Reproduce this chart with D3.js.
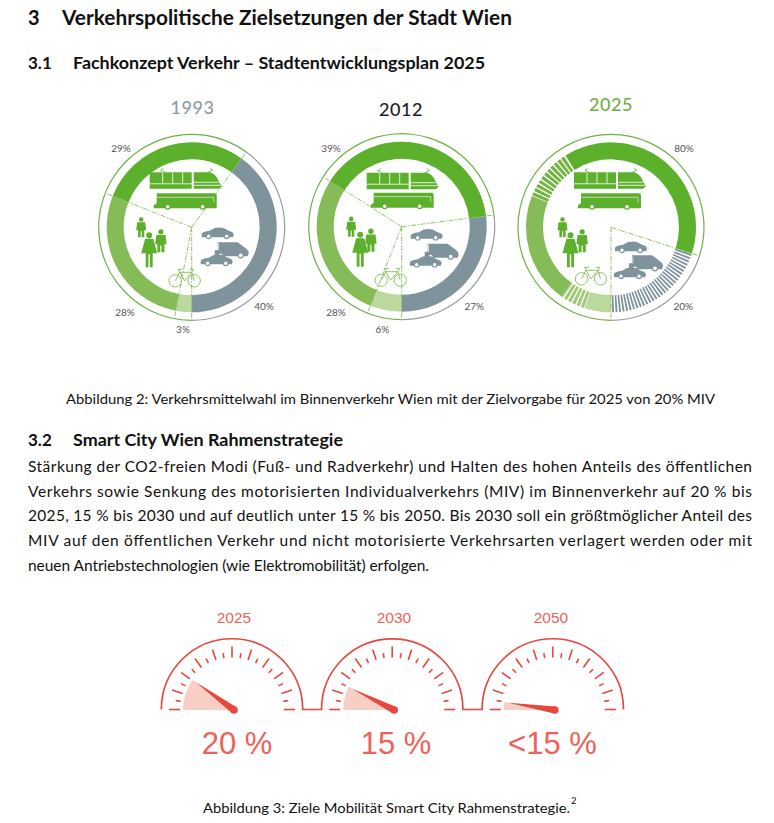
<!DOCTYPE html>
<html lang="de"><head><meta charset="utf-8">
<script src="https://cdn.jsdelivr.net/npm/d3@7"></script>
<style>html,body{margin:0;padding:0;background:#fff}svg{display:block}text{font-family:Lato,"Open Sans",sans-serif}</style>
</head><body><svg id="c" width="774" height="823" viewBox="0 0 774 823"></svg>
<script>
// ---------- data ----------
const years = ["1993","2012","2025"];
const modes = ["Rad","Fuß","ÖV","MIV"];
const share1993 = [3,28,29,40];
const share2012 = [6,28,39,27];
const modes2025 = ["Rad","Rad+","Fuß","Fuß+","ÖV","MIV"];
const share2025 = [5,5,21,10,39,20];
const gaugeYears = ["2025","2030","2050"];
const gaugeValues = [20,15,5];
const gaugeLabels = ["20 %","15 %","<15 %"];
const labels1993 = ["3%","28%","29%","40%"];
const labels2012 = ["6%","28%","39%","27%"];
const labels2025 = ["80%","20%"];

// ---------- styles ----------
const C = {dark:"#5cb02c",mid:"#86bc58",light:"#bbd89e",grey:"#7f939c",ring:"#6db043",ringGrey:"#9c9aa6",
  ink:"#111",red:"#e6473f",redText:"#ee625b",wedge:"#f9cfc5"};
const colorOf = {"Rad":C.light,"Rad+":"#9fca74","Fuß":C.mid,"Fuß+":"#6fb53e","ÖV":C.dark,"MIV":C.grey};
const svg = d3.select("#c");

// ---------- document text ----------
function txt(s,x,y,size,weight,w,fill){
  const t=svg.append("text").attr("x",x).attr("y",y).attr("font-size",size).attr("font-weight",weight||400).attr("fill",fill||C.ink).text(s);
  if(w) t.attr("textLength",w).attr("lengthAdjust","spacingAndGlyphs");
  return t;
}
txt("3",28,25,20,700);
txt("Verkehrspolitische Zielsetzungen der Stadt Wien",62,25,20,700,450);
txt("3.1",28,69,17,700);
txt("Fachkonzept Verkehr – Stadtentwicklungsplan 2025",73,69,17,700,412);
txt("Abbildung 2: Verkehrsmittelwahl im Binnenverkehr Wien mit der Zielvorgabe für 2025 von 20% MIV",66,404,14.3,400,649);
txt("3.2",28,446,17,700);
txt("Smart City Wien Rahmenstrategie",73,446,17,700,270);
const body=[
 ["Stärkung der CO2-freien Modi (Fuß- und Radverkehr) und Halten des hohen Anteils des öffentlichen",472,724],
 ["Verkehrs sowie Senkung des motorisierten Individualverkehrs (MIV) im Binnenverkehr auf 20 % bis",497,724],
 ["2025, 15 % bis 2030 und auf deutlich unter 15 % bis 2050. Bis 2030 soll ein größtmöglicher Anteil des",521,724],
 ["MIV auf den öffentlichen Verkehr und nicht motorisierte Verkehrsarten verlagert werden oder mit",546,724],
 ["neuen Antriebstechnologien (wie Elektromobilität) erfolgen.",571,401]];
body.forEach(b=>{txt(b[0],28,b[1],15.5,400,b[2]).attr("lengthAdjust","spacing")});
txt("Abbildung 3: Ziele Mobilität Smart City Rahmenstrategie.",203,813,14.3,400,367);
txt("2",571,804,9.5,400);

// ---------- icons (local coordinates, top-left origin) ----------
function tram(g){
  g.append("path").attr("fill",C.dark).attr("d","M0,4H42V20.5H0Z");
  g.append("path").attr("fill",C.dark).attr("d","M44,4H60Q66,5 70,15L72,18L69,20.5H44Z");
  g.append("path").attr("stroke","#fff").attr("stroke-width",.8).attr("fill","none").attr("d","M13,4V15M23,4V15M33,4V15M0,15.5H42M44,14H69M44,17H71");
  g.append("path").attr("stroke",C.dark).attr("stroke-width",.8).attr("fill","none").attr("d","M14,0L11,2L15,4M60,0L63,2L58,4");
}
function bus(g){
  g.append("path").attr("fill",C.dark).attr("d","M3,0H61Q63,0 63,2V15H0V12L3,10Z");
  g.append("path").attr("fill","none").attr("stroke","#d7e8c4").attr("stroke-width",.8).attr("d","M3,4H60V9");
  [14,49].forEach(x=>g.append("circle").attr("cx",x).attr("cy",13.5).attr("r",2.4).attr("fill","#fff").attr("stroke",C.dark).attr("stroke-width",1.2));
}
function man(g){
  g.append("circle").attr("cx",4.5).attr("cy",2.2).attr("r",2.3).attr("fill",C.dark);
  g.append("path").attr("fill",C.dark).attr("d","M0.5,5H8.5L9.5,13H7.6V20H5V14H4V20H1.4V13H-0.5Z");
}
function woman(g){
  g.append("circle").attr("cx",7.5).attr("cy",3).attr("r",3).attr("fill",C.dark);
  g.append("path").attr("fill",C.dark).attr("d","M3.5,6.5H11.5L15.5,21H11V35H8.2V22H6.8V35H4V21H-0.5Z");
}
function car(g){
  g.append("path").attr("fill",C.grey).attr("d","M0,6.5Q1,4.5 8,3.5L13,0.8Q18,-0.4 22,0.8L27,3.5Q32,4.5 32,7.5L31,10H0Z");
  [7,25].forEach(x=>g.append("circle").attr("cx",x).attr("cy",9).attr("r",2.3).attr("fill","#fff").attr("stroke",C.grey).attr("stroke-width",1.2));
}
function van(g){
  g.append("path").attr("fill",C.grey).attr("d","M3,0H23L31,6Q34,8 34,11L33,14H0V8H3Z");
  g.append("path").attr("fill","none").attr("stroke","#fff").attr("stroke-width",.7).attr("d","M3.8,1V8");
  [6,26].forEach(x=>g.append("circle").attr("cx",x).attr("cy",13).attr("r",2.5).attr("fill","#fff").attr("stroke",C.grey).attr("stroke-width",1.2));
}
function bike(g){
  g.attr("fill","none").attr("stroke",C.mid).attr("stroke-width",.9);
  [6.5,25.5].forEach(x=>g.append("circle").attr("cx",x).attr("cy",12.5).attr("r",6.2));
  g.append("path").attr("d","M6.5,12.5L11,4H23L25.5,12.5M11,4L16,12.5L23,4M9,1H14M11,4L10,1M21,1H25L23,4");
}

// ---------- donuts ----------
const rIn=68, rOut=85, rFrame=93;
const pie=d3.pie().sort(null).startAngle(Math.PI).endAngle(3*Math.PI);
const arc=d3.arc().innerRadius(rIn).outerRadius(rOut);
const frameArc=d3.arc().innerRadius(rFrame-.6).outerRadius(rFrame+.6);

const donuts=[
 {year:years[0],c:[191.7,227.3],names:modes,vals:share1993,title:"#8b9ca4",tw:500,tx:192.5,ty:114,
  labels:labels1993,lp:[[183,333],[125,316],[121,152],[264,310]],
  ic:{tram:[-42,-59],bus:[-38,-34],car1:[10,0],van:[23,15],car2:[9,27],bike:[-23,41],man1:[-55,-10],woman:[-50,5],man2:[-36,2]}},
 {year:years[1],c:[401.7,226.7],names:modes,vals:share2012,title:"#1c1c1c",tw:500,tx:401,ty:116,
  labels:labels2012,lp:[[382.3,333],[336,316],[331,152],[474.3,310]],
  ic:{tram:[-35,-58],bus:[-31,-34],car1:[9,2],van:[23,17],car2:[8,29],bike:[-27,41],man1:[-55,-10],woman:[-49,5],man2:[-36,2]}},
 {year:years[2],c:[611,227.3],names:modes2025,vals:share2025,title:"#6db043",tw:500,tx:611,ty:111,
  labels:labels2025,lp:[[684,152],[683.3,310]],
  ic:{tram:[-37,-59],bus:[-33,-34],car1:[4,14],van:[18,28],car2:[3,40],bike:[-36,39],man1:[-53,-10],woman:[-48,5],man2:[-34,2]}}
];

donuts.forEach(d=>{
  const g=svg.append("g").attr("transform",`translate(${d.c[0]},${d.c[1]})`);
  const arcs=pie(d.vals);
  const nonMiv=d3.sum(d.vals.filter((v,i)=>d.names[i]!=="MIV"));
  const miv=d3.sum(d.vals.filter((v,i)=>d.names[i]==="MIV"));
  const fr=d3.pie().sort(null).startAngle(Math.PI).endAngle(3*Math.PI)([nonMiv,miv]);
  g.selectAll(".fr").data(fr).join("path").attr("d",frameArc).attr("fill",(a,i)=>i?C.ringGrey:C.ring);
  arcs.forEach((a,i)=>{
    const name=d.names[i], hatched=d.year==="2025"&&(name.endsWith("+")||name==="MIV");
    if(!hatched){
      g.append("path").attr("d",arc(a)).attr("fill",colorOf[name]);
    } else {
      const step=(name==="MIV"?2.4:3.2)*Math.PI/180;
      const n=Math.round((a.endAngle-a.startAngle)/step);
      const fill=name==="MIV"?.55:.68;
      d3.range(n).forEach(k=>{
        const s=a.startAngle+(k+.16)*step;
        g.append("path").attr("fill",colorOf[name])
         .attr("d",arc({startAngle:s,endAngle:s+step*fill}));
      });
    }
  });
  const spokes=d.year==="2025"
    ? arcs.filter((a,i)=>d.names[i]==="MIV").flatMap(a=>[a.startAngle,a.endAngle])
    : arcs.map(a=>a.startAngle);
  g.selectAll(".sp").data(spokes).join("line")
   .attr("x2",a=>Math.sin(a)*rFrame)
   .attr("y2",a=>-Math.cos(a)*rFrame)
   .attr("stroke",C.mid).attr("stroke-width",.9).attr("stroke-dasharray","5 1.5 1.5 1.5");
  const place=(fn,p,k)=>{const ig=g.append("g").attr("transform",`translate(${p[0]},${p[1]})${k?` scale(${k})`:""}`);fn(ig);};
  place(tram,d.ic.tram);place(bus,d.ic.bus);place(car,d.ic.car1);place(van,d.ic.van);place(car,d.ic.car2);
  place(bike,d.ic.bike);place(man,d.ic.man1);place(woman,d.ic.woman);place(man,d.ic.man2,1.15);
  txt(d.year,d.tx,d.ty,18,d.tw,null,d.title).attr("text-anchor","middle").attr("letter-spacing",.6);
  d.labels.forEach((l,i)=>txt(l,d.lp[i][0],d.lp[i][1],10,400,null,"#555").attr("text-anchor","middle"));
});

// ---------- gauges ----------
const gaugeCx=[232,392.2,552.8], gaugeCy=709.5, gaugeR=70.7;
const angle=d3.scaleLinear().domain([0,100]).range([0,Math.PI]);
const polar=(cx,cy,r,a)=>[cx-r*Math.cos(a),cy-r*Math.sin(a)];
const gg=svg.append("g");
const outline=d3.path();
gaugeCx.forEach((cx,i)=>{
  if(i===0) outline.moveTo(cx-gaugeR,gaugeCy); else outline.lineTo(cx-gaugeR,gaugeCy);
  outline.arc(cx,gaugeCy,gaugeR,Math.PI,2*Math.PI);
});
gg.append("path").attr("d",outline.toString()).attr("fill","none").attr("stroke",C.red).attr("stroke-width",1.7);
const tickVals=d3.range(0,101,5);
const titleX=[234,394,551], valueX=[237,396,552.5];
gaugeCx.forEach((cx,i)=>{
  const hx=cx+2, hy=gaugeCy+.5, a=angle(gaugeValues[i]);
  const wedge=d3.path();
  wedge.moveTo(hx,hy);
  wedge.lineTo(hx-51,hy);
  wedge.arc(hx,hy,51,Math.PI,Math.PI+a);
  wedge.closePath();
  gg.append("path").attr("d",wedge.toString()).attr("fill",C.wedge);
  tickVals.forEach((t,k)=>{
    const long=k%2===0, b=angle(t), p1=polar(cx,gaugeCy,long?63:57,b), p2=polar(cx,gaugeCy,52,b);
    gg.append("line").attr("x1",p1[0]).attr("y1",p1[1]).attr("x2",p2[0]).attr("y2",p2[1])
      .attr("stroke",C.red).attr("stroke-width",1.6);
  });
  const tip=polar(hx,hy,47,a), nx=Math.sin(a)*3.6, ny=-Math.cos(a)*3.6;
  gg.append("path").attr("fill",C.red)
    .attr("d",`M${tip[0]},${tip[1]}L${hx+nx},${hy+ny}L${hx-nx},${hy-ny}Z`);
  gg.append("circle").attr("cx",hx).attr("cy",hy).attr("r",3.8).attr("fill",C.red);
  svg.append("text").attr("x",titleX[i]).attr("y",623).attr("text-anchor","middle").attr("font-size",15.5)
    .attr("fill",C.redText).style("font-family","Liberation Sans").text(gaugeYears[i]);
  svg.append("text").attr("x",valueX[i]).attr("y",754).attr("text-anchor","middle").attr("font-size",31)
    .attr("fill",C.redText).style("font-family","Liberation Sans").text(gaugeLabels[i]);
});
</script></body></html>
